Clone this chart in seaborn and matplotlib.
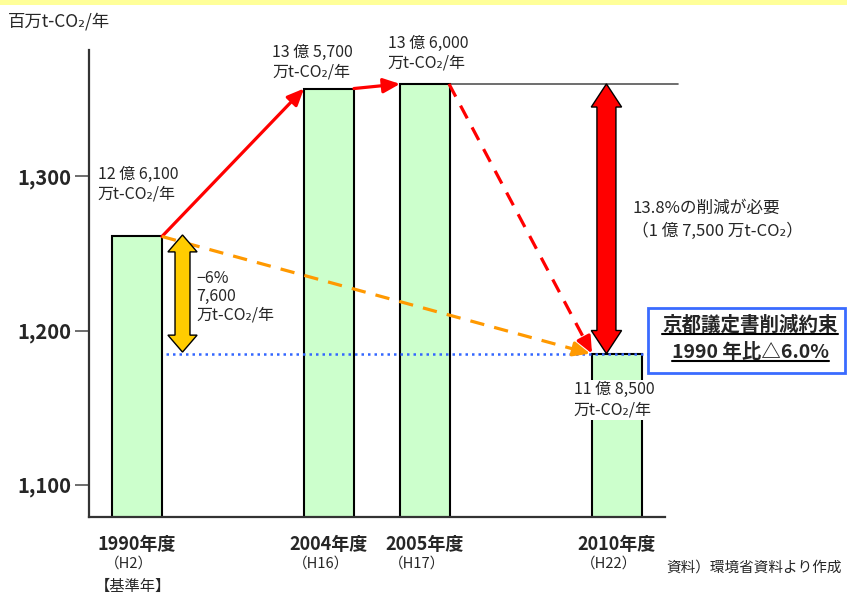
import matplotlib
matplotlib.use("Agg")
import matplotlib.pyplot as plt
import seaborn as sns
import pandas as pd
import numpy as np
from matplotlib.patches import Polygon, Rectangle
from matplotlib.lines import Line2D

# ---------------- data ----------------
years = ["1990年度", "2004年度", "2005年度", "2010年度"]
heisei = ["（H2）", "（H16）", "（H17）", "（H22）"]
emissions = [1261, 1357, 1360, 1185]          # 百万t-CO2/年
value_labels = ["12 億 6,100\n万t-CO₂/年", "13 億 5,700\n万t-CO₂/年",
                "13 億 6,000\n万t-CO₂/年", "11 億 8,500\n万t-CO₂/年"]
kyoto_target = 1185                           # 1990 level -6%
y_ticks = [1100, 1200, 1300]
y_tick_labels = ["1,100", "1,200", "1,300"]
# category order with empty slots to show the time gaps
order = ["1990年度", "_gap1", "2004年度", "2005年度", "_gap2", "2010年度"]

sns.set_style("white")
plt.rcParams["font.family"] = ["Noto Sans CJK JP", "DejaVu Sans"]

fig = plt.figure(figsize=(8.47, 5.94), dpi=100)
ax = fig.add_axes([89 / 847, 77 / 594, 576 / 847, 467 / 594])

df = pd.DataFrame({"year": years, "value": emissions})
BAR_W = 0.52
sns.barplot(data=df, x="year", y="value", order=order, width=BAR_W,
            color="#CCFFCC", saturation=1, edgecolor="black", linewidth=1.5,
            errorbar=None, ax=ax, zorder=2)

ax.set_xlim(-0.5, 5.5)
ax.set_ylim(1079, 1382)
ax.set_xlabel("")
ax.set_ylabel("")

pos = {y: order.index(y) for y in years}
val = dict(zip(years, emissions))
h = BAR_W / 2

# axes styling
for s in ["top", "right"]:
    ax.spines[s].set_visible(False)
for s in ["left", "bottom"]:
    ax.spines[s].set_color("#333333")
    ax.spines[s].set_linewidth(1.6)
ax.set_yticks(y_ticks)
ax.set_yticklabels(y_tick_labels, fontsize=14.5, fontweight="bold")
ax.tick_params(axis="y", length=10, width=1.2, color="#555555", pad=3, direction="out", left=True)
ax.set_xticks([pos[y] for y in years])
ax.set_xticklabels(years, fontsize=13, fontweight="bold")
ax.tick_params(axis="x", length=0, pad=13)

xt = ax.get_xaxis_transform()
for y, hs in zip(years, heisei):
    ax.text(pos[y] - 0.08, -0.099, hs, transform=xt, ha="center", va="center", fontsize=10.5)
ax.text(pos["1990年度"] - 0.04, -0.148, "【基準年】", transform=xt, ha="center", va="center", fontsize=11)

# ---------------- reference lines ----------------
ax.plot([pos["2005年度"] + h, 5.64], [val["2005年度"]] * 2, color="#555555", lw=1.2,
        clip_on=False, zorder=1)
ax.plot([0.30, 5.33], [kyoto_target] * 2, color="#3366FF", lw=1.8, ls=(0, (1, 1.6)),
        zorder=3, clip_on=False)


# ---------------- arrows ----------------
def trend_arrow(p0, p1, color, dashed=False):
    if not dashed:
        ax.annotate("", xy=p1, xytext=p0,
                    arrowprops=dict(arrowstyle="-|>,head_length=0.5,head_width=0.22",
                                    color=color, lw=2.3, mutation_scale=20,
                                    shrinkA=0, shrinkB=0), zorder=4)
        return
    d0 = ax.transData.transform(p0)
    d1 = ax.transData.transform(p1)
    v = (d1 - d0) / np.linalg.norm(d1 - d0)
    dm = d1 - v * 16
    pm = ax.transData.inverted().transform(dm)
    ax.plot([p0[0], pm[0]], [p0[1], pm[1]], color=color, lw=2.3, dashes=(4.5, 3.2),
            zorder=4, solid_capstyle="butt", dash_capstyle="butt")
    ax.annotate("", xy=p1, xytext=pm,
                arrowprops=dict(arrowstyle="-|>,head_length=0.5,head_width=0.22",
                                color=color, lw=2.3, mutation_scale=20,
                                shrinkA=0, shrinkB=0), zorder=4)


trend_arrow((pos["1990年度"] + h, val["1990年度"]), (pos["2004年度"] - h, val["2004年度"]), "#FF0000")
trend_arrow((pos["2004年度"] + h, val["2004年度"]), (pos["2005年度"] - h, val["2005年度"]), "#FF0000")
trend_arrow((pos["2005年度"] + h - 0.01, val["2005年度"]), (pos["2010年度"] - h, val["2010年度"]),
            "#FF0000", dashed=True)
trend_arrow((pos["1990年度"] + h, val["1990年度"]), (pos["2010年度"] - h - 0.02, kyoto_target),
            "#FF9900", dashed=True)


def block_double_arrow(x, y0, y1, shaft_hw, head_hw, head_len, color):
    pts = [(x, y1), (x + head_hw, y1 - head_len), (x + shaft_hw, y1 - head_len),
           (x + shaft_hw, y0 + head_len), (x + head_hw, y0 + head_len), (x, y0),
           (x - head_hw, y0 + head_len), (x - shaft_hw, y0 + head_len),
           (x - shaft_hw, y1 - head_len), (x - head_hw, y1 - head_len)]
    ax.add_patch(Polygon(pts, closed=True, facecolor=color, edgecolor="black",
                         lw=1.0, zorder=5))


block_double_arrow(0.474, kyoto_target + 1, val["1990年度"] + 1, 0.078, 0.152, 11, "#FFCC00")
block_double_arrow(4.89, val["2010年度"], val["2005年度"], 0.099, 0.158, 15, "#FF0000")

# ---------------- value labels ----------------
txt_kw = dict(fontsize=11.5, ha="left", va="center", linespacing=1.25, zorder=6)
ax.text(-0.41, 1295, value_labels[0], **txt_kw)
ax.text(1.41, 1374, value_labels[1], **txt_kw)
ax.text(2.61, 1380, value_labels[2], **txt_kw)
ax.text(4.55, 1155, value_labels[3],
        bbox=dict(facecolor="white", edgecolor="none", pad=1), **txt_kw)
ax.text(0.62, 1222, "−6%\n7,600\n万t-CO₂/年", fontsize=11.5, ha="left", va="center",
        linespacing=1.1, zorder=6)
ax.text(5.16, 1272, "13.8%の削減が必要\n（1 億 7,500 万t-CO₂）", fontsize=12,
        ha="left", va="center", linespacing=1.45, zorder=6, clip_on=False)

# ---------------- figure decorations ----------------
fig.patches.append(Rectangle((0, 1 - 5 / 594), 1, 5 / 594, transform=fig.transFigure,
                             facecolor="#FFFF99", edgecolor="none"))
fig.patches.append(Rectangle((648 / 847, 1 - 373 / 594), 197 / 847, 65 / 594,
                             transform=fig.transFigure, facecolor="white",
                             edgecolor="#3A6BFF", lw=2, zorder=5))
t1 = fig.text(750 / 847, 1 - 325 / 594, "京都議定書削減約束", ha="center", va="center",
              fontsize=14, fontweight="bold", zorder=6)
t2 = fig.text(750 / 847, 1 - 352 / 594, "1990 年比△6.0%", ha="center", va="center",
              fontsize=14, fontweight="bold", zorder=6)

fig.text(8 / 847, 1 - 21 / 594, "百万t-CO₂/年", ha="left", va="center", fontsize=12.5)
fig.text(842 / 847, 1 - 568 / 594, "資料）環境省資料より作成", ha="right", va="center", fontsize=10.5)

# underline for the Kyoto box text
fig.canvas.draw()
r = fig.canvas.get_renderer()
inv = fig.transFigure.inverted()
for t in (t1, t2):
    bb = t.get_window_extent(r)
    (x0, yy), (x1, _) = inv.transform([(bb.x0, bb.y0 + 1), (bb.x1, bb.y0)])
    fig.lines.append(Line2D([x0, x1], [yy, yy], transform=fig.transFigure,
                            color="black", lw=1.5, zorder=7))

fig.savefig("out.png", dpi=100)
